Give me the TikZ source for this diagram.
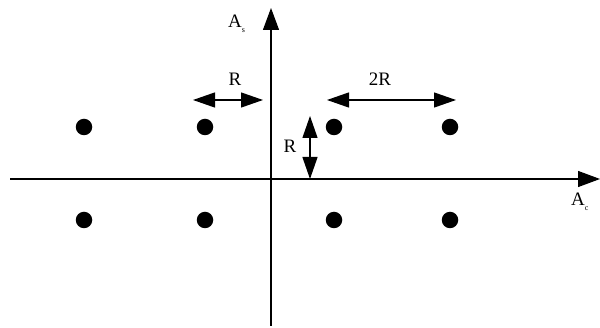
\documentclass[tikz,border=0pt]{standalone}
\usepackage{fontspec}
\setmainfont{Liberation Serif}
\usetikzlibrary{arrows.meta}
\begin{document}
\begin{tikzpicture}[x=1pt,y=-1pt,
  axis/.style={line width=1.2pt,-{Triangle[length=22pt,width=16pt]}},
  dim/.style={line width=1.2pt,{Triangle[length=22pt,width=15pt]}-{Triangle[length=22pt,width=15pt]}},
  pt/.style={circle,fill=black,inner sep=0pt,minimum size=16.5pt},
  lbl/.style={font=\fontsize{19}{22}\selectfont,inner sep=0pt}]
\useasboundingbox (0,0) rectangle (600,328);
\coordinate (vb) at (271,326);
\coordinate (vt) at (271,8);
\coordinate (hl) at (10,179);
\coordinate (hr) at (600,179);
\draw[axis] (vb) -- (vt);
\draw[axis] (hl) -- (hr);
\node[pt] (p1) at (84,127) {};
\node[pt] (p2) at (205,127) {};
\node[pt] (p3) at (334,127) {};
\node[pt] (p4) at (450,127) {};
\node[pt] (p5) at (84,220) {};
\node[pt] (p6) at (205,220) {};
\node[pt] (p7) at (334,220) {};
\node[pt] (p8) at (450,220) {};
\coordinate (r1a) at (193,100);
\coordinate (r1b) at (263,100);
\draw[dim] (r1a) -- (r1b);
\coordinate (r2a) at (327,100);
\coordinate (r2b) at (456,100);
\draw[dim] (r2a) -- (r2b);
\coordinate (r3a) at (310,116);
\coordinate (r3b) at (310,179);
\draw[dim] (r3a) -- (r3b);
\node[lbl] (lR1) at (235,79) {R};
\node[lbl] (lR2) at (380,79) {2R};
\node[lbl] (lR3) at (290,146) {R};
\node[lbl,anchor=base west] (las) at (228,28) {A\raisebox{-5pt}{\fontsize{8}{9}\selectfont s}};
\node[lbl,anchor=base west] (lac) at (571,206) {A\raisebox{-5pt}{\fontsize{8}{9}\selectfont c}};
\end{tikzpicture}
\end{document}
